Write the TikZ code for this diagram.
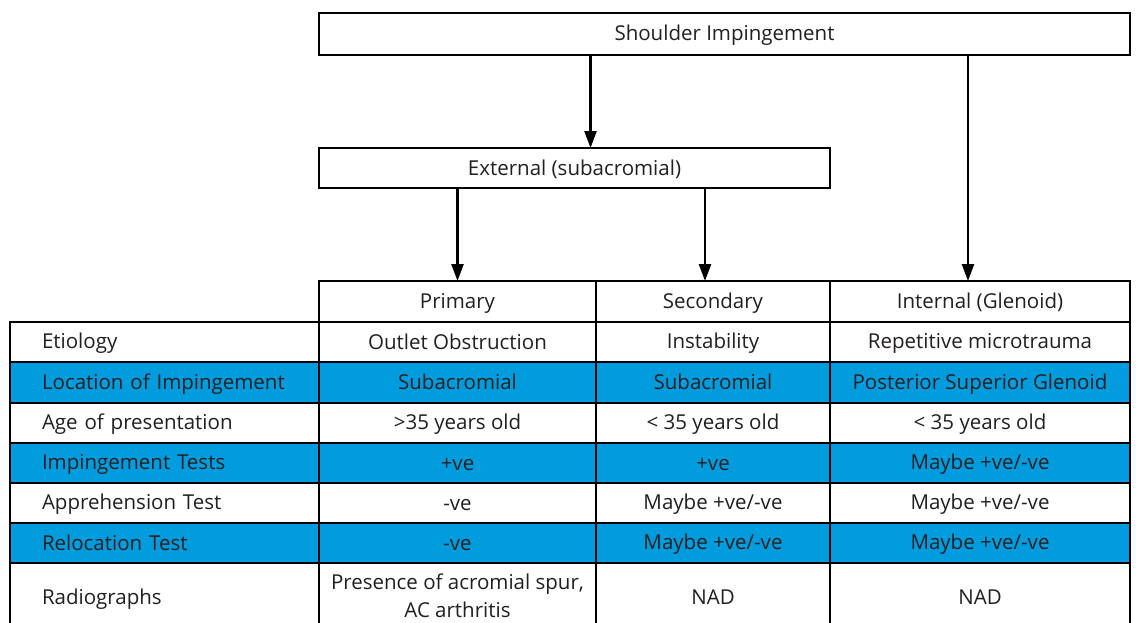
\documentclass[tikz,border=0pt]{standalone}
\usepackage{fontspec}
\setmainfont{Open Sans}
\usetikzlibrary{arrows.meta}
\definecolor{rowblue}{HTML}{009CDE}
\definecolor{ink}{HTML}{231F20}
\newcommand{\cellstrut}{\rule[-4pt]{0pt}{22pt}}
\tikzset{
  box/.style={draw=black, line width=2.4pt, fill=white, inner sep=0pt, outer sep=0pt,
    anchor=north west, text=ink, font=\fontsize{20.5}{28}\selectfont, align=center,
    execute at begin node=\cellstrut, execute at end node=\cellstrut},
  cell/.style={box, minimum height=#1},
  lcell/.style={box, minimum height=#1, align=left, text width=245pt, inner xsep=32pt}
}
\begin{document}
\begin{tikzpicture}[x=1pt, y=-1pt, >={Triangle[length=17pt,width=12pt]}]
\useasboundingbox (0,0) rectangle (1136,622);
\clip (0,0) rectangle (1136,622);
% the two boxes on top
\node[box, minimum width=811pt, minimum height=42pt] (top) at (319,13) {Shoulder Impingement};
\node[box, minimum width=511pt, minimum height=40pt] (ext) at (319,148) {External (subacromial)};
% header row
\node[cell=41pt, minimum width=277pt] (h1) at (319,281) {Primary};
\node[cell=41pt, minimum width=234pt] (h2) at (596,281) {Secondary};
\node[cell=41pt, minimum width=300pt] (h3) at (830,281) {Internal (Glenoid)};
% arrows
\coordinate (a1) at ([xshift=16pt]ext.north);
\coordinate (a2) at ([xshift=-8pt]h2.north);
\coordinate (a3) at ([xshift=-12pt]h3.north);
\draw[->, line width=2.4pt] (a1 |- top.south) -- (a1);
\draw[->, line width=2.4pt] (h1.north |- ext.south) -- (h1.north);
\draw[->, line width=2.4pt] (a2 |- ext.south) -- (a2);
\draw[->, line width=2.4pt] (a3 |- top.south) -- (a3);
% table rows
\foreach \t/\h/\f/\a/\b/\c/\d [count=\r] in {
  322/40/white/Etiology/Outlet Obstruction/Instability/Repetitive microtrauma,
  362/41/rowblue/Location of Impingement/Subacromial/Subacromial/Posterior Superior Glenoid,
  403/40/white/Age of presentation/{>35 years old}/{< 35 years old}/{< 35 years old},
  443/40/rowblue/Impingement Tests/+ve/+ve/{Maybe +ve/-ve},
  483/40/white/Apprehension Test/-ve/{Maybe +ve/-ve}/{Maybe +ve/-ve},
  523/40/rowblue/Relocation Test/-ve/{Maybe +ve/-ve}/{Maybe +ve/-ve},
  563/69/white/Radiographs/{Presence of acromial spur,\\AC arthritis}/NAD/NAD}
{
  \node[lcell=\h pt, fill=\f] (r\r-0) at (10,\t) {\a};
  \node[cell=\h pt, fill=\f, minimum width=277pt] (r\r-1) at (319,\t) {\b};
  \node[cell=\h pt, fill=\f, minimum width=234pt] (r\r-2) at (596,\t) {\c};
  \node[cell=\h pt, fill=\f, minimum width=300pt] (r\r-3) at (830,\t) {\d};
}
\end{tikzpicture}
\end{document}
